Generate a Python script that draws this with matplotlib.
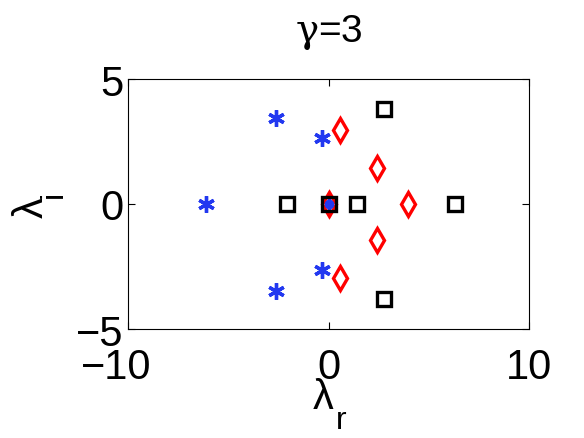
import matplotlib.pyplot as plt
from matplotlib.transforms import ScaledTranslation

# eigenvalues, gamma = 3
blue_re = [-6.1, -2.6, -2.6, -0.3, -0.3, 0.0]
blue_im = [0.0, 3.46, -3.46, 2.64, -2.64, 0.0]

red_re = [0.0, 0.57, 0.57, 2.4, 2.4, 3.95]
red_im = [0.0, 2.96, -2.96, 1.44, -1.44, 0.0]

black_re = [-2.05, 0.0, 1.4, 6.3, 2.75, 2.75]
black_im = [0.0, 0.0, 0.0, 0.0, 3.8, -3.78]

plt.rcParams['font.family'] = ['Liberation Sans', 'DejaVu Sans']
plt.rcParams['mathtext.fontset'] = 'custom'
plt.rcParams['mathtext.rm'] = 'Liberation Sans'
plt.rcParams['mathtext.it'] = 'DejaVu Serif'

W, H = 584, 439
fig = plt.figure(figsize=(W / 100, H / 100), dpi=100)
ax = fig.add_axes([128 / W, 1 - 330 / H, 401 / W, 250 / H])

ax.plot(blue_re, blue_im, linestyle='none', marker=(6, 2, 0), markersize=12,
        markeredgewidth=2.4, color='#2238f0')
ax.plot(red_re, red_im, linestyle='none', marker='d', markersize=12.5,
        markerfacecolor='none', markeredgewidth=2.4, markeredgecolor='red')
ax.plot(black_re, black_im, linestyle='none', marker='s', markersize=9.5,
        markerfacecolor='none', markeredgewidth=2.4, markeredgecolor='black')
ax.plot([0], [0], linestyle='none', marker='o', markersize=6, color='#2238f0')

ax.set_xlim(-10, 10)
ax.set_ylim(-5, 5)
ax.set_xticks([-10, 0, 10])
ax.set_yticks([-5, 0, 5])
ax.tick_params(direction='in', top=True, right=True, labelsize=30, length=5)
ax.tick_params(axis='x', pad=13)
ax.tick_params(axis='y', pad=3)
ax.set_title(r'$\gamma$=3', fontsize=28, pad=27)

# the minus of -10 hangs left of the tick, as in the original
lab = ax.get_xticklabels()[0]
lab.set_transform(lab.get_transform() + ScaledTranslation(-0.12, 0, fig.dpi_scale_trans))

# axis labels with a big, low subscript (as in the original)
fig.text(313 / W, 1 - 409 / H, 'λ', fontsize=30, ha='left', va='baseline')
fig.text(336 / W, 1 - 429 / H, 'r', fontsize=23, ha='left', va='baseline')
fig.text(43 / W, 1 - 218 / H, 'λ', fontsize=30, rotation=90,
         ha='left', va='baseline', rotation_mode='anchor')
fig.text(62 / W, 1 - 198 / H, 'i', fontsize=23, rotation=90,
         ha='left', va='baseline', rotation_mode='anchor')

fig.savefig('out.png', dpi=100)
